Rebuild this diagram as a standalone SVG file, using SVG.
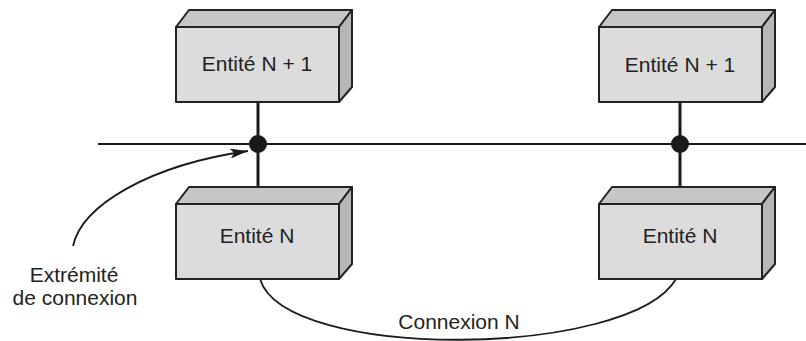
<svg xmlns="http://www.w3.org/2000/svg" width="806" height="341" viewBox="0 0 806 341">
<style>
.front{fill:#dcdcdc;stroke:#222;stroke-width:2;stroke-linejoin:round}
.top{fill:#c6c6c6;stroke:#222;stroke-width:2;stroke-linejoin:round}
.side{fill:#b6b6b6;stroke:#222;stroke-width:2;stroke-linejoin:round}
.lbl{font-family:"Liberation Sans",Arial,sans-serif;font-size:21px;fill:#222;text-anchor:middle}
.wire{stroke:#1a1a1a;stroke-width:3;fill:none}
.thin{stroke:#1a1a1a;stroke-width:1.8;fill:none}
</style>
<defs>
<marker id="ah" viewBox="0 0 18 10" refX="18" refY="5" markerWidth="18" markerHeight="10" markerUnits="userSpaceOnUse" orient="auto">
<path d="M0,0 L18,5 L0,10 L4,5 Z" fill="#1a1a1a"/>
</marker>
<g id="box">
<polygon class="top" points="0,17 13,0 176,0 163,17"/>
<polygon class="side" points="163,17 176,0 176,77 163,92"/>
<rect class="front" x="0" y="17" width="163" height="75"/>
</g>
</defs>
<g id="connectors">
<line class="thin" x1="98" y1="144" x2="806" y2="144"/>
<line class="wire" x1="258" y1="102" x2="258" y2="197"/>
<line class="wire" x1="680" y1="102" x2="680" y2="197"/>
<path class="thin" d="M260,279 C285,362 630,358 676,279"/>
<path class="thin" d="M73,246 C82,205 150,165 248,151" marker-end="url(#ah)"/>
<circle cx="258" cy="144" r="9" fill="#1a1a1a"/>
<circle cx="680" cy="144" r="9" fill="#1a1a1a"/>
</g>
<g id="n1-left">
<use href="#box" x="176" y="10"/>
<text class="lbl" x="257" y="71">Entité N + 1</text>
</g>
<g id="n1-right">
<use href="#box" x="599" y="10"/>
<text class="lbl" x="680" y="72">Entité N + 1</text>
</g>
<g id="n-left">
<use href="#box" x="176" y="187"/>
<text class="lbl" x="257" y="243">Entité N</text>
</g>
<g id="n-right">
<use href="#box" x="599" y="187"/>
<text class="lbl" x="680" y="243">Entité N</text>
</g>
<g id="labels">
<text class="lbl" x="74" y="282">Extrémité</text>
<text class="lbl" x="75" y="305">de connexion</text>
<text class="lbl" x="459" y="329">Connexion N</text>
</g>
</svg>
